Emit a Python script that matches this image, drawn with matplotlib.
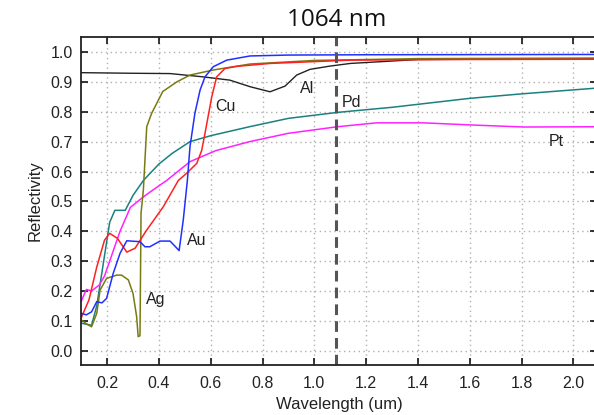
#!/usr/bin/env python3
import matplotlib
matplotlib.use("Agg")
import matplotlib.pyplot as plt
import matplotlib.transforms as mtransforms

plt.rcParams['font.family'] = ['Liberation Sans', 'DejaVu Sans']

# wavelength (um) / reflectivity, one pair per metal
pd_x = [0.10, 0.14, 0.16, 0.185, 0.21, 0.23, 0.27, 0.30, 0.34, 0.40, 0.45, 0.52,
        0.60, 0.75, 0.90, 1.09, 1.30, 1.60, 1.80, 2.10]
pd_y = [0.092, 0.085, 0.15, 0.29, 0.43, 0.47, 0.47, 0.52, 0.57, 0.625, 0.66, 0.70,
        0.72, 0.75, 0.778, 0.798, 0.815, 0.845, 0.86, 0.88]

pt_x = [0.10, 0.12, 0.14, 0.17, 0.19, 0.21, 0.25, 0.29, 0.34, 0.38, 0.43, 0.52,
        0.62, 0.75, 0.90, 1.09, 1.24, 1.42, 1.63, 1.81, 2.10]
pt_y = [0.165, 0.205, 0.20, 0.22, 0.25, 0.30, 0.40, 0.48, 0.515, 0.54, 0.57, 0.633,
        0.67, 0.70, 0.728, 0.75, 0.763, 0.763, 0.755, 0.749, 0.75]

cu_x = [0.10, 0.13, 0.16, 0.19, 0.21, 0.24, 0.276, 0.308, 0.353, 0.417, 0.475, 0.507,
        0.546, 0.565, 0.578, 0.604, 0.623, 0.655, 0.70, 0.83, 1.14, 1.50, 2.10]
cu_y = [0.11, 0.17, 0.28, 0.37, 0.393, 0.376, 0.33, 0.343, 0.404, 0.482, 0.57, 0.594,
        0.627, 0.67, 0.728, 0.85, 0.917, 0.945, 0.952, 0.962, 0.973, 0.975, 0.976]

au_x = [0.10, 0.12, 0.14, 0.16, 0.18, 0.198, 0.224, 0.25, 0.276, 0.327, 0.346, 0.365,
        0.404, 0.443, 0.462, 0.478, 0.494, 0.51, 0.52, 0.539, 0.559, 0.578, 0.61,
        0.662, 0.752, 0.90, 1.20, 2.10]
au_y = [0.125, 0.12, 0.13, 0.164, 0.16, 0.175, 0.26, 0.326, 0.368, 0.365, 0.348, 0.348,
        0.367, 0.367, 0.35, 0.335, 0.437, 0.571, 0.683, 0.795, 0.873, 0.917, 0.951,
        0.973, 0.987, 0.99, 0.991, 0.992]

ag_x = [0.10, 0.12, 0.14, 0.16, 0.173, 0.198, 0.237, 0.256, 0.282, 0.30, 0.314, 0.32,
        0.327, 0.331, 0.34, 0.353, 0.372, 0.415, 0.469, 0.52, 0.61, 0.752, 1.00, 1.40, 2.10]
ag_y = [0.103, 0.09, 0.08, 0.125, 0.203, 0.242, 0.253, 0.253, 0.237, 0.192, 0.114, 0.047,
        0.05, 0.46, 0.538, 0.75, 0.795, 0.868, 0.90, 0.923, 0.94, 0.96, 0.972, 0.978, 0.98]

al_x = [0.10, 0.20, 0.30, 0.443, 0.571, 0.674, 0.752, 0.829, 0.887, 0.932, 0.983,
        1.06, 1.14, 1.40, 2.10]
al_y = [0.931, 0.93, 0.929, 0.928, 0.917, 0.906, 0.884, 0.867, 0.886, 0.923, 0.942,
        0.953, 0.962, 0.975, 0.978]

# label text and where it sits (data coords)
labels = ["Cu", "Al", "Pd", "Pt", "Au", "Ag"]
label_x = [0.655, 0.971, 1.144, 1.936, 0.546, 0.389]
label_y = [0.817, 0.878, 0.830, 0.699, 0.368, 0.172]

laser_um = 1.085  # where the 1064 nm marker is drawn in the picture

fig = plt.figure(figsize=(5.94, 4.15), dpi=100)
ax = fig.add_axes([0.1367, 0.1205, 0.8677, 0.790])

ax.plot(pd_x, pd_y, color='#1b8080', lw=1.1)
ax.plot(pt_x, pt_y, color='#ff22ff', lw=1.1)
ax.plot(al_x, al_y, color='#222222', lw=1.0)
ax.plot(ag_x, ag_y, color='#7a7a12', lw=1.1)
ax.plot(cu_x, cu_y, color='#ff2020', lw=1.1)
ax.plot(au_x, au_y, color='#2030ff', lw=1.1)

ax.axvline(laser_um, color='#555555', lw=2.2, dashes=[3.5, 2.0])

for t, x, y in zip(labels, label_x, label_y):
    ax.text(x, y, t, ha='center', va='center', fontsize=11.5, color='#222222')

trans = mtransforms.blended_transform_factory(ax.transData, ax.transAxes)
ax.text(laser_um, 1.034, "1064 nm", transform=trans, ha='center', va='baseline',
        fontsize=17.5, family=['Open Sans', 'DejaVu Sans'], color='#111111')

ax.set_xlim(0.1, 2.09)
ax.set_ylim(-0.048, 1.05)
ax.set_xticks([0.2, 0.4, 0.6, 0.8, 1.0, 1.2, 1.4, 1.6, 1.8, 2.0])
ax.set_yticks([i / 10 for i in range(11)])
ax.set_xticklabels(['0.2', '0.4', '0.6', '0.8', '1.0', '1.2', '1.4', '1.6', '1.8', '2.0'])
ax.set_yticklabels(['%.1f' % (i / 10) for i in range(11)])

ax.grid(True, color='#b0b0b0', lw=1.0, linestyle=(0, (1, 2.5)))
ax.tick_params(direction='in', top=True, right=True, length=5, width=1.1,
               labelsize=11.5, labelcolor='#222222')
ax.tick_params(axis='x', pad=8)
ax.tick_params(axis='y', pad=6)
for s in ax.spines.values():
    s.set_linewidth(1.3)
    s.set_color('#222222')

ax.set_xlabel("Wavelength (um)", fontsize=12, color='#222222', labelpad=4)
ax.set_ylabel("Reflectivity", fontsize=12, color='#222222', labelpad=6)

fig.savefig("out.png", dpi=100)
